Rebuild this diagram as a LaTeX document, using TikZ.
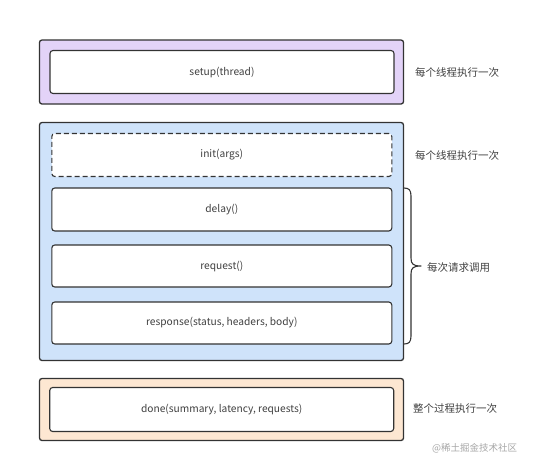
\documentclass[tikz,border=0pt]{standalone}
\usepackage{fontspec}
\setmainfont{Noto Sans CJK SC}
\usetikzlibrary{positioning}
\definecolor{txt}{HTML}{404040}
\definecolor{edge}{HTML}{333333}
\definecolor{purplefill}{HTML}{E3D3F8}
\definecolor{bluefill}{HTML}{CFE3FA}
\definecolor{orangefill}{HTML}{FDE7D2}
\tikzset{
  outerbox/.style={draw=edge, line width=1.3pt, rounded corners=2.5pt, inner sep=0pt},
  innerbox/.style={draw=edge, line width=1.1pt, rounded corners=3pt, fill=white,
    minimum width=#1, minimum height=43pt, inner sep=0pt, text=txt, font=\fontsize{10.2}{12}\selectfont},
  innerbox/.default=340pt,
  sidelabel/.style={anchor=west, text=txt, font=\fontsize{10.5}{12}\selectfont, inner sep=0pt},
}
\begin{document}
\begin{tikzpicture}[x=1pt,y=-1pt]
\useasboundingbox (0,0) rectangle (550,467);
% outer boxes
\node[outerbox, fill=purplefill, minimum width=364pt, minimum height=64pt] (setupouter) at (221.5,72) {};
\node[outerbox, fill=bluefill, minimum width=364pt, minimum height=238pt] (mainouter) at (221.5,241.5) {};
\node[outerbox, fill=orangefill, minimum width=364pt, minimum height=62pt] (doneouter) at (221.5,409.5) {};
% inner boxes
\node[innerbox=344pt] (setup) at (222,72) {setup(thread)};
\node[innerbox=340pt, dashed, dash pattern=on 5pt off 3pt, minimum height=43pt] (init) at (221.8,155) {init(args)};
\node[innerbox=340pt] (delay) at (221.8,209.5) {delay()};
\node[innerbox=340pt, minimum height=42pt] (request) at (221.8,266) {request()};
\node[innerbox=340pt, minimum height=42pt] (response) at (221.8,323) {response(status, headers, body)};
\node[innerbox=344pt, minimum height=44pt] (done) at (221.7,409.5) {done(summary, latency, requests)};
% labels
\node[sidelabel] (l1) at (415,72) {每个线程执行一次};
\node[sidelabel] (l2) at (415,155) {每个线程执行一次};
\node[sidelabel] (l3) at (427,267) {每次请求调用};
\node[sidelabel] (l4) at (413,409) {整个过程执行一次};
\node[anchor=west, inner sep=0pt, text=black!35, font=\fontsize{9.5}{11}\selectfont] (wm) at (432,448) {@稀土掘金技术社区};
% brace
\coordinate (btop) at (404,188);
\coordinate (bbot) at (404,344);
\coordinate (btip) at (421,266);
\draw[edge, line width=1.1pt, line join=round]
  (btop) .. controls (409,188) and (411,190) .. (411,196)
  -- (411,258) .. controls (411,264) and (413,266) .. (btip)
  .. controls (413,266) and (411,268) .. (411,274)
  -- (411,336) .. controls (411,342) and (409,344) .. (bbot);
\end{tikzpicture}
\end{document}
